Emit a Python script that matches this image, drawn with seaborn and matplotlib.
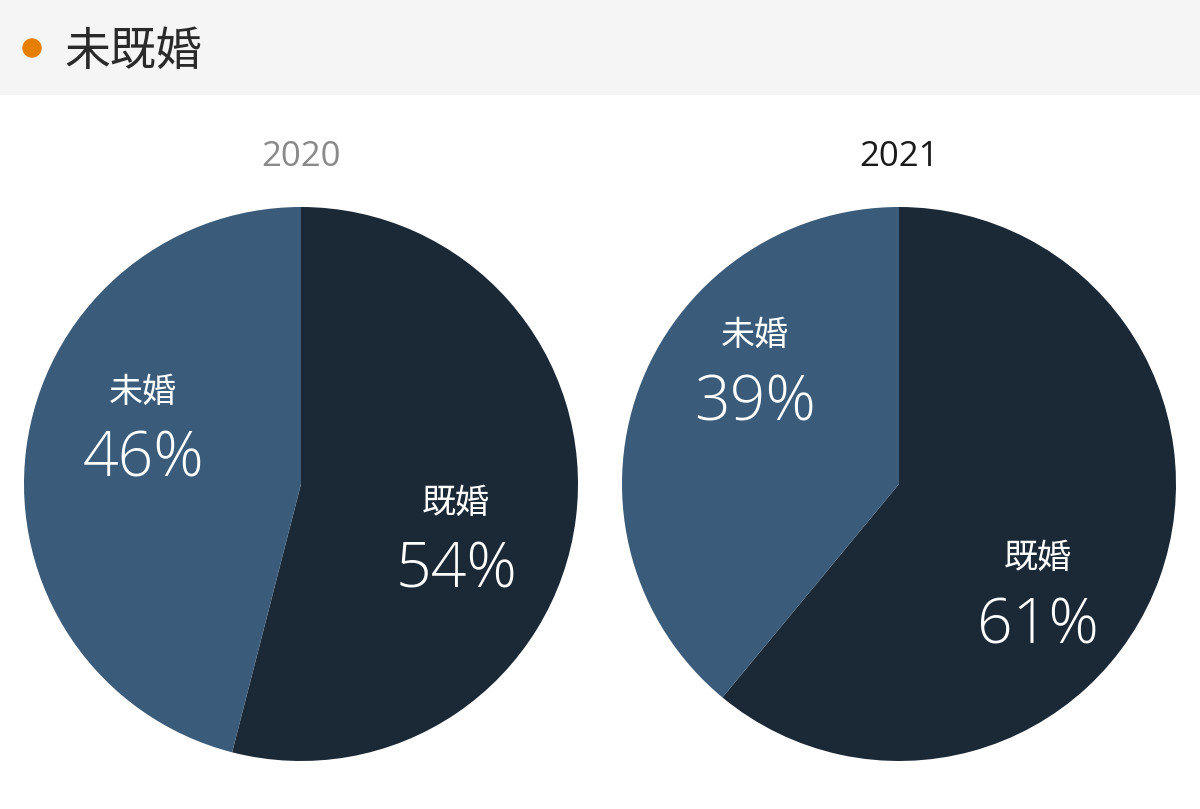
import matplotlib
matplotlib.use("Agg")
import matplotlib.pyplot as plt
import matplotlib.patches as mpatches
import seaborn as sns
import numpy as np

# ---- data ----
title = "未既婚"
years = ["2020", "2021"]
categories = ["既婚", "未婚"]
values_2020 = [54, 46]
values_2021 = [61, 39]
all_values = [values_2020, values_2021]

# ---- style ----
sns.set_theme(style="white")
plt.rcParams['font.family'] = ['Noto Sans CJK JP', 'DejaVu Sans']
colors = sns.color_palette(["#1b2937", "#3a5b79"])
year_colors = ["#8a8a8a", "#1a1a1a"]

W, H = 1200, 809
fig = plt.figure(figsize=(W / 100, H / 100), dpi=100)
fig.patch.set_facecolor("white")

# header band
hdr = fig.add_axes([0, 1 - 95 / H, 1, 95 / H])
hdr.set_xlim(0, W)
hdr.set_ylim(95, 0)
hdr.set_facecolor("#f5f5f5")
hdr.axis("off")
hdr.add_patch(mpatches.Rectangle((0, 0), W, 95, color="#f5f5f5", zorder=0))
hdr.add_patch(mpatches.Circle((32, 48), 9, color="#e67e00", zorder=2))
hdr.text(64, 52, title, fontsize=33, color="#2a2a2a", va="center", ha="left")

# pie geometry (pixels)
centers_x = [301, 899]
center_y = 484
radius = 277
# label offsets (in radius units) per pie: (既婚 dx, dy), (未婚 dx, dy)
label_pos = [
    [(0.56, -0.07), (-0.57, 0.33)],
    [(0.50, -0.27), (-0.52, 0.535)],
]
pct_gap = 0.245

for i, (cx, vals) in enumerate(zip(centers_x, all_values)):
    left = (cx - radius) / W
    bottom = (H - center_y - radius) / H
    ax = fig.add_axes([left, bottom, 2 * radius / W, 2 * radius / H])
    ax.pie(vals, colors=colors, startangle=90, counterclock=False,
           radius=1.0, wedgeprops=dict(linewidth=0))
    ax.set_xlim(-1, 1)
    ax.set_ylim(-1, 1)
    ax.set_aspect("auto")
    ax.axis("off")
    for (dx, dy), cat, v in zip(label_pos[i], categories, vals):
        ax.text(dx, dy, cat, fontsize=24.5, color="white", ha="center", va="center")
        ax.text(dx, dy - pct_gap, f"{v}%", fontsize=45, color="white",
                ha="center", va="center", family=["Open Sans", "DejaVu Sans"],
                fontweight="light")
    fig.text(cx / W, 1 - 157 / H, years[i], fontsize=25, color=year_colors[i],
             ha="center", va="center", family=["Open Sans", "DejaVu Sans"])

fig.savefig("out.png", dpi=100, facecolor="white")
